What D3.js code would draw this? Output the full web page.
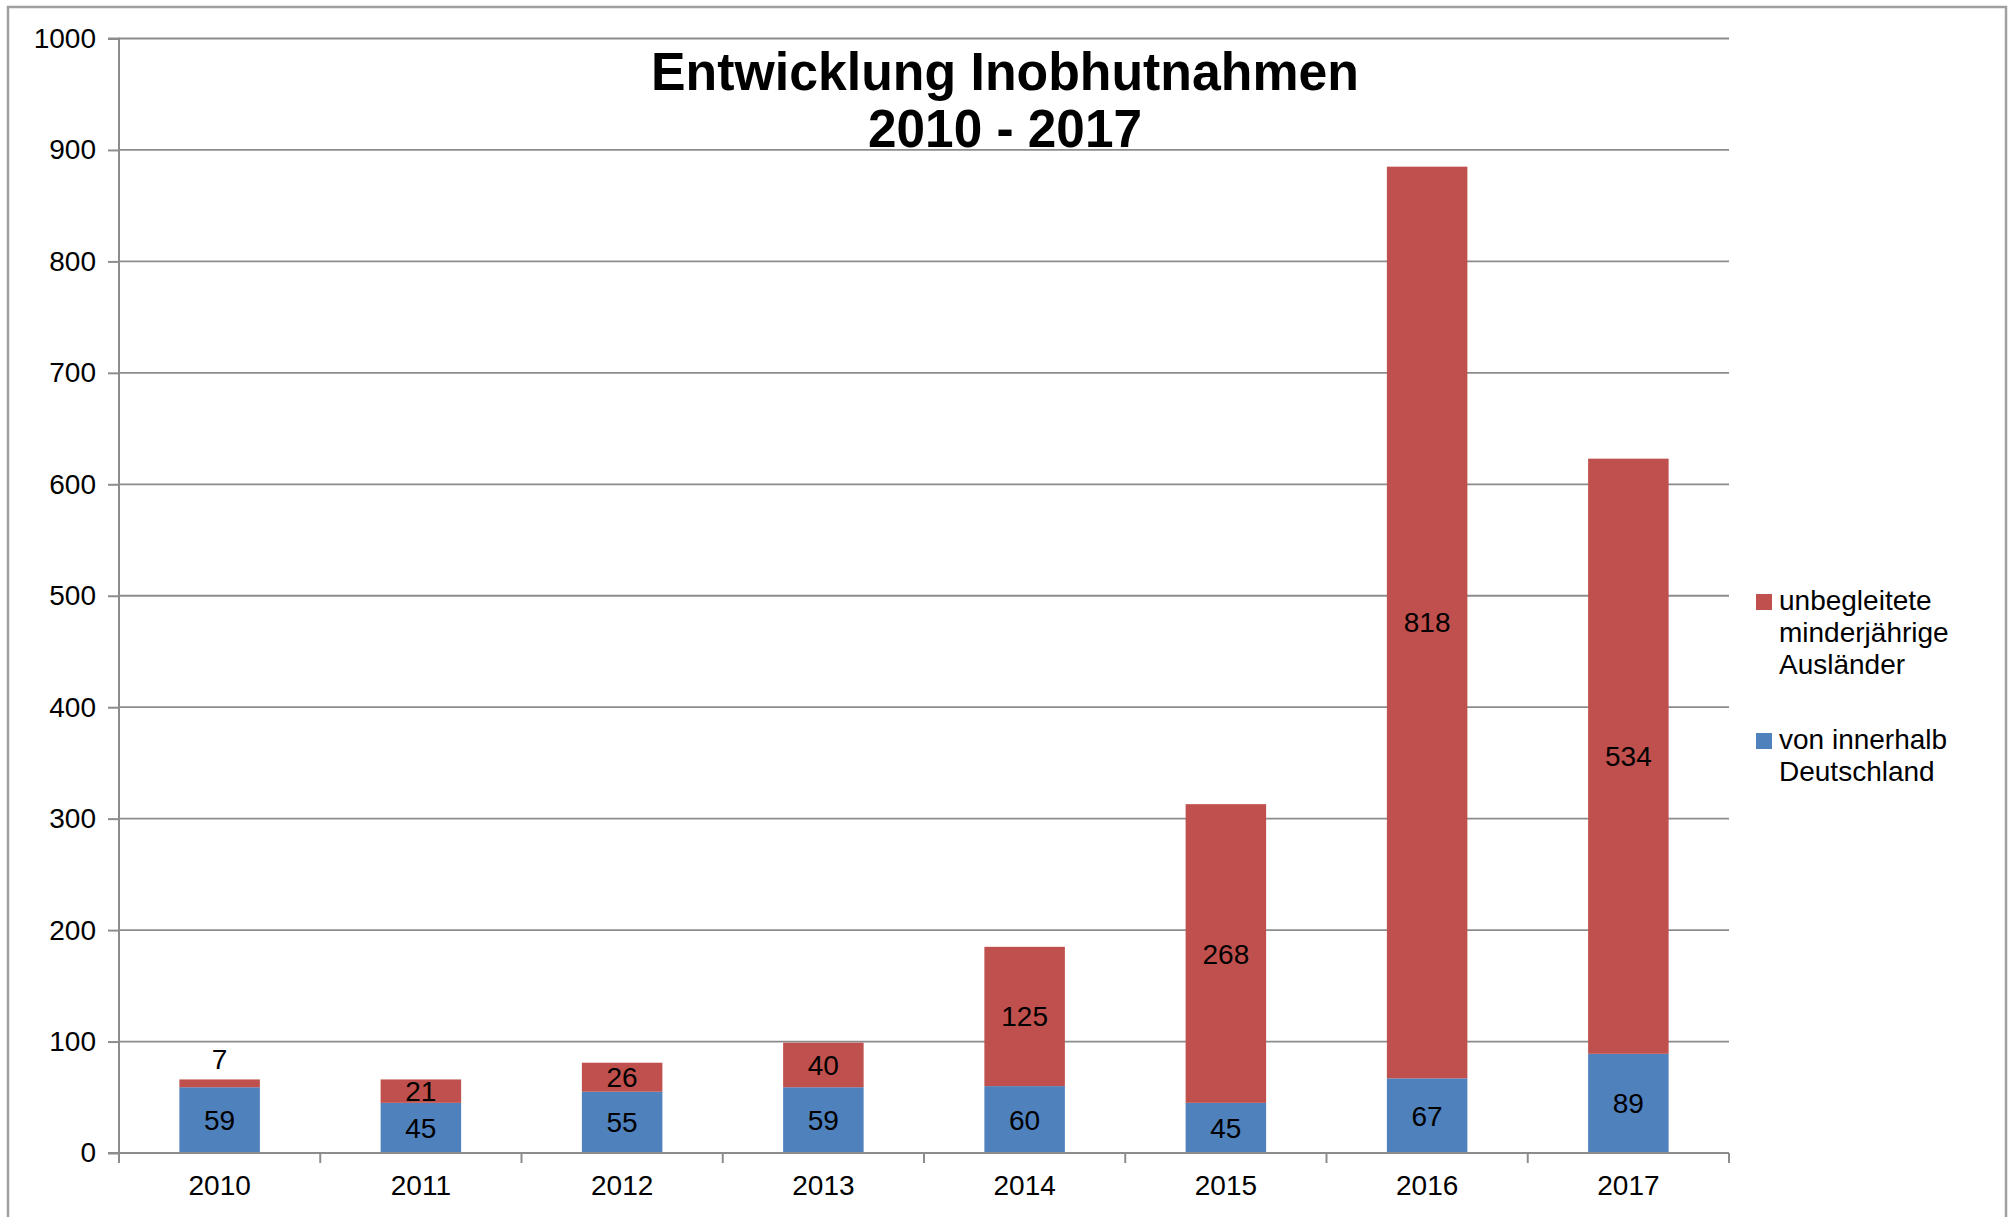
<!DOCTYPE html>
<html>
<head>
<meta charset="utf-8">
<script src="https://cdn.jsdelivr.net/npm/d3@7"></script>
<style>
  html, body { margin: 0; padding: 0; background: #fff; }
  svg { display: block; font-family: "Liberation Sans", Arial, sans-serif; }
</style>
</head>
<body>
<svg id="chart" width="2011" height="1217"></svg>
<script>
const years = ["2010", "2011", "2012", "2013", "2014", "2015", "2016", "2017"];
const inland = [59, 45, 55, 59, 60, 45, 67, 89];
const umA = [7, 21, 26, 40, 125, 268, 818, 534];
const seriesNames = ["von innerhalb Deutschland", "unbegleitete minderjährige Ausländer"];
const yTicks = [0, 100, 200, 300, 400, 500, 600, 700, 800, 900, 1000];
const titleLines = ["Entwicklung Inobhutnahmen", "2010 - 2017"];
const legendLines = [["unbegleitete", "minderjährige", "Ausländer"], ["von innerhalb", "Deutschland"]];
const colors = ["#4F81BD", "#C0504D"];

const W = 2011, H = 1217;
const svg = d3.select("#chart");
const m = { left: 119, right: 1729, top: 38.5, bottom: 1153 };
const grid = "#8c8c8c";

// outer border
svg.append("rect").attr("x", 8).attr("y", 7).attr("width", 1998).attr("height", 1230)
  .attr("fill", "none").attr("stroke", "#a0a0a0").attr("stroke-width", 2.5);

const x = d3.scaleBand().domain(years).range([m.left, m.right]).paddingInner(0.6).paddingOuter(0.3);
const y = d3.scaleLinear().domain([0, 1000]).range([m.bottom, m.top]);

// gridlines
svg.append("g").selectAll("line").data(yTicks.filter(d => d > 0)).join("line")
  .attr("x1", m.left).attr("x2", m.right)
  .attr("y1", d => y(d)).attr("y2", d => y(d))
  .attr("stroke", grid).attr("stroke-width", 1.8);

// stacked data
const rows = years.map((yr, i) => ({ year: yr, inland: inland[i], uma: umA[i] }));
const stack = d3.stack().keys(["inland", "uma"])(rows);

const gBars = svg.append("g");
stack.forEach((s, si) => {
  gBars.selectAll(null).data(s).join("rect")
    .attr("x", d => x(d.data.year))
    .attr("width", x.bandwidth())
    .attr("y", d => y(d[1]))
    .attr("height", d => y(d[0]) - y(d[1]))
    .attr("fill", colors[si]);
});

// y axis
const yAxis = d3.axisLeft(y).tickValues(yTicks).tickSize(11).tickPadding(12).tickFormat(d3.format("d"));
const gy = svg.append("g").attr("transform", `translate(${m.left},0)`).call(yAxis);
gy.select(".domain").attr("stroke", grid).attr("stroke-width", 2).attr("d", `M-11,${m.bottom}H0V${m.top}H-11`);
gy.selectAll(".tick line").attr("stroke", grid).attr("stroke-width", 2);
gy.selectAll(".tick text").attr("font-size", 28).attr("fill", "#000")
  .attr("font-family", "'Liberation Sans', Arial, sans-serif");

// x axis
const xAxis = d3.axisBottom(x).tickSize(0).tickPadding(22);
const gx = svg.append("g").attr("transform", `translate(0,${m.bottom})`).call(xAxis);
gx.select(".domain").attr("stroke", grid).attr("stroke-width", 2).attr("d", `M${m.left},0H${m.right}`);
gx.selectAll(".tick text").attr("font-size", 28).attr("fill", "#000")
  .attr("font-family", "'Liberation Sans', Arial, sans-serif").attr("dy", "0.71em");
// boundary ticks
const step = x.step();
const bounds = d3.range(years.length + 1).map(i => x(years[0]) - x.paddingOuter() * step + i * step);
gx.append("g").selectAll("line").data(bounds).join("line")
  .attr("x1", d => d).attr("x2", d => d).attr("y1", 0).attr("y2", 10)
  .attr("stroke", grid).attr("stroke-width", 2);

// labels
const gLab = svg.append("g").attr("font-size", 28).attr("text-anchor", "middle").attr("fill", "#000");
stack.forEach((s, si) => {
  gLab.selectAll(null).data(s).join("text")
    .attr("x", d => x(d.data.year) + x.bandwidth() / 2)
    .attr("y", d => {
      const h = y(d[0]) - y(d[1]);
      if (h < 15) return y(d[1]) - 10;
      return (y(d[0]) + y(d[1])) / 2 + 10;
    })
    .text(d => d[1] - d[0]);
});

// title
const gT = svg.append("g").attr("text-anchor", "middle").attr("font-weight", "bold").attr("font-size", 54).attr("fill", "#000");
gT.append("text").attr("x", 1005).attr("y", 90).attr("textLength", 708).attr("lengthAdjust", "spacingAndGlyphs").text(titleLines[0]);
gT.append("text").attr("x", 1005).attr("y", 147).attr("textLength", 274).attr("lengthAdjust", "spacingAndGlyphs").text(titleLines[1]);

// legend
const legY = [594, 733];
const legColors = [colors[1], colors[0]];
const gL = svg.append("g");
legendLines.forEach((lines, i) => {
  gL.append("rect").attr("x", 1756).attr("y", legY[i]).attr("width", 16).attr("height", 16).attr("fill", legColors[i]);
  lines.forEach((t, j) => {
    gL.append("text").attr("x", 1779).attr("y", legY[i] + 16 + j * 32)
      .attr("font-size", 28).attr("fill", "#000").text(t);
  });
});
</script>
</body>
</html>
